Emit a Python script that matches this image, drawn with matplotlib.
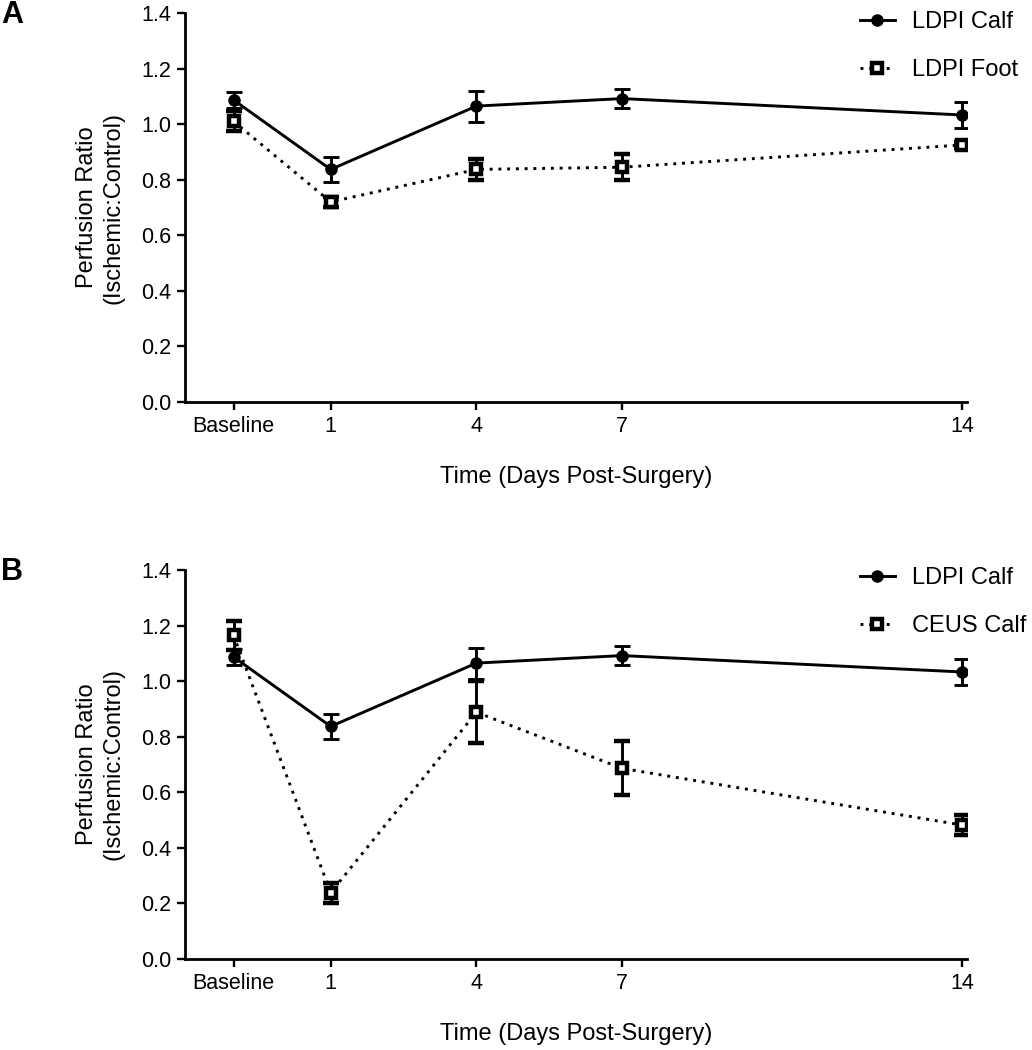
import matplotlib
matplotlib.use("Agg")
import matplotlib.pyplot as plt
from matplotlib.container import ErrorbarContainer

plt.rcParams['font.family'] = ['Liberation Sans', 'DejaVu Sans']

# Data
time_days = [-1, 1, 4, 7, 14]
tick_labels = ["Baseline", "1", "4", "7", "14"]

ldpi_calf = [1.087, 0.837, 1.065, 1.092, 1.033]
ldpi_calf_err = [0.030, 0.046, 0.056, 0.033, 0.046]

ldpi_foot = [1.010, 0.720, 0.837, 0.845, 0.925]
ldpi_foot_err = [0.036, 0.018, 0.037, 0.047, 0.012]

ceus_calf = [1.165, 0.239, 0.888, 0.686, 0.482]
ceus_calf_err = [0.053, 0.036, 0.112, 0.097, 0.036]

W, H = 1032, 1050
fig = plt.figure(figsize=(W / 100, H / 100), dpi=100)

def px_axes(left, top, right, bottom):
    return fig.add_axes([left / W, 1 - bottom / H, (right - left) / W, (bottom - top) / H])

ax_a = px_axes(185, 13, 967, 402)
ax_b = px_axes(185, 570, 967, 959)

def style_axes(ax):
    ax.set_xlim(-2, 14.1)
    ax.set_ylim(0, 1.4)
    ax.set_yticks([0, 0.2, 0.4, 0.6, 0.8, 1.0, 1.2, 1.4])
    ax.set_yticklabels(["0.0", "0.2", "0.4", "0.6", "0.8", "1.0", "1.2", "1.4"])
    ax.set_xticks(time_days)
    ax.set_xticklabels(tick_labels)
    for s in ["top", "right"]:
        ax.spines[s].set_visible(False)
    for s in ["left", "bottom"]:
        ax.spines[s].set_linewidth(2.0)
    ax.tick_params(axis="both", direction="out", length=6, width=1.7, labelsize=15.5, pad=4)
    ax.set_xlabel("Time (Days Post-Surgery)", fontsize=17)
    ax.set_ylabel("Perfusion Ratio\n(Ischemic:Control)", fontsize=17, linespacing=1.3)
    ax.xaxis.set_label_coords(0.5, -0.165)
    ax.yaxis.set_label_coords(-0.077, 0.5)

def plot_solid(ax, y, e, label):
    ax.errorbar(time_days, y, yerr=e, color="black", lw=2.1, ls="-",
                marker="o", ms=8, mfc="black", mec="black",
                elinewidth=2.1, capsize=5.5, capthick=2.1, label=label, zorder=3)

def plot_dotted(ax, y, e, label):
    ax.errorbar(time_days, y, yerr=e, color="black", lw=2.1, ls=(0, (1, 2)),
                marker="s", ms=7, mfc="white", mec="black", mew=3.2,
                elinewidth=2.1, capsize=5.5, capthick=2.1, label=label, zorder=4)

plot_solid(ax_a, ldpi_calf, ldpi_calf_err, "LDPI Calf")
plot_dotted(ax_a, ldpi_foot, ldpi_foot_err, "LDPI Foot")
plot_solid(ax_b, ldpi_calf, ldpi_calf_err, "LDPI Calf")
plot_dotted(ax_b, ceus_calf, ceus_calf_err, "CEUS Calf")

for ax in (ax_a, ax_b):
    style_axes(ax)

def add_legend(ax, top_px):
    handles, labels = ax.get_legend_handles_labels()
    new_h = []
    for hh in handles:
        new_h.append(hh.lines[0] if isinstance(hh, ErrorbarContainer) else hh)
    ax.legend(new_h, labels, loc="upper left", bbox_to_anchor=(860 / W, 1 - top_px / H),
              bbox_transform=fig.transFigure, frameon=False, fontsize=17,
              handlelength=1.48, handletextpad=0.72, labelspacing=1.12,
              borderpad=0, borderaxespad=0)

add_legend(ax_a, 11)
add_legend(ax_b, 567)

fig.text(1 / W, 1 - 15 / H, "A", fontsize=22, fontweight="bold", va="center", ha="left")
fig.text(1 / W, 1 - 572 / H, "B", fontsize=22, fontweight="bold", va="center", ha="left")

fig.savefig("out.png", dpi=100)
